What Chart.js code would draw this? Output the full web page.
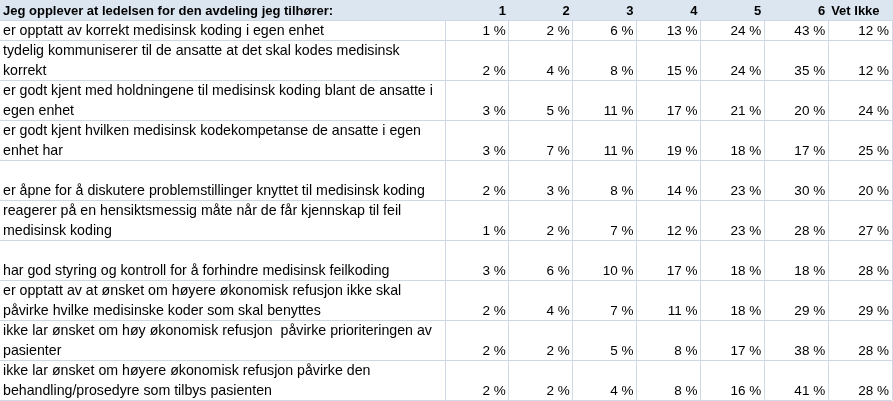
<!DOCTYPE html>
<html>
<head>
<meta charset="utf-8">
<script src="https://cdn.jsdelivr.net/npm/chart.js@4"></script>
<style>
  html, body { margin: 0; padding: 0; background: #fff; }
  #wrap { width: 893px; height: 401px; }
</style>
</head>
<body>
<div id="wrap"><canvas id="table"></canvas></div>
<script>
const title = 'Jeg opplever at ledelsen for den avdeling jeg tilhører:';
const columns = ['1', '2', '3', '4', '5', '6', 'Vet Ikke'];

// one entry per row, one string per line in the cell (empty line = text sits at the bottom)
const statements = [
  ['er opptatt av korrekt medisinsk koding i egen enhet'],
  ['tydelig kommuniserer til de ansatte at det skal kodes medisinsk', 'korrekt'],
  ['er godt kjent med holdningene til medisinsk koding blant de ansatte i', 'egen enhet'],
  ['er godt kjent hvilken medisinsk kodekompetanse de ansatte i egen', 'enhet har'],
  ['', 'er åpne for å diskutere problemstillinger knyttet til medisinsk koding'],
  ['reagerer på en hensiktsmessig måte når de får kjennskap til feil', 'medisinsk koding'],
  ['', 'har god styring og kontroll for å forhindre medisinsk feilkoding'],
  ['er opptatt av at ønsket om høyere økonomisk refusjon ikke skal', 'påvirke hvilke medisinske koder som skal benyttes'],
  ['ikke lar ønsket om høy økonomisk refusjon  påvirke prioriteringen av', 'pasienter'],
  ['ikke lar ønsket om høyere økonomisk refusjon påvirke den', 'behandling/prosedyre som tilbys pasienten']
];

// percent per answer column
const svar1 = [1, 2, 3, 3, 2, 1, 3, 2, 2, 2];
const svar2 = [2, 4, 5, 7, 3, 2, 6, 4, 2, 2];
const svar3 = [6, 8, 11, 11, 8, 7, 10, 7, 5, 4];
const svar4 = [13, 15, 17, 19, 14, 12, 17, 11, 8, 8];
const svar5 = [24, 24, 21, 18, 23, 23, 18, 18, 17, 16];
const svar6 = [43, 35, 20, 17, 30, 28, 18, 29, 38, 41];
const vetIkke = [12, 12, 24, 25, 20, 27, 28, 29, 28, 28];
const columnValues = [svar1, svar2, svar3, svar4, svar5, svar6, vetIkke];

const GRID = '#d0d7e5';
const HEADER_BG = '#dce6f1';
const TEXT = '#000000';
const FONT_FAMILY = '"Liberation Sans", Arial, sans-serif';
const HEAD_FONT = 'bold 13px ' + FONT_FAMILY;
const LABEL_FONT = '14.2px ' + FONT_FAMILY;
const VALUE_FONT = '13.5px ' + FONT_FAMILY;
const PAD = 3;

// row boundaries in "line" units
const rowStart = [];
let totalLines = 0;
statements.forEach(lines => { rowStart.push(totalLines); totalLines += lines.length; });
const boundaries = rowStart.concat([totalLines]);

const datasets = columns.map((col, c) => ({
  label: col,
  data: columnValues[c].map((v, r) => ({ x: col, y: rowStart[r] + statements[r].length - 0.5, v: v })),
  pointRadius: 0,
  pointHoverRadius: 0
}));

const isNumber = s => !isNaN(Number(s));

const tableText = {
  id: 'tableText',
  beforeDraw(chart) {
    const { ctx, chartArea, width } = chart;
    ctx.save();
    ctx.fillStyle = HEADER_BG;
    ctx.fillRect(0, 0, width, chartArea.top);
    ctx.restore();
  },
  afterDraw(chart) {
    const { ctx, chartArea } = chart;
    const x = chart.scales.x;
    const y = chart.scales.y;
    ctx.save();
    ctx.fillStyle = TEXT;
    ctx.textBaseline = 'middle';

    // header row
    const headY = chartArea.top / 2 + 1;
    ctx.font = HEAD_FONT;
    ctx.textAlign = 'left';
    ctx.fillText(title, PAD, headY);
    columns.forEach((col, c) => {
      if (isNumber(col)) {
        ctx.textAlign = 'right';
        ctx.fillText(col, x.getPixelForValue(c + 0.5) - PAD, headY);
      } else {
        ctx.textAlign = 'left';
        ctx.fillText(col, x.getPixelForValue(c - 0.5) + PAD, headY);
      }
    });

    // statement column
    ctx.font = LABEL_FONT;
    ctx.textAlign = 'left';
    statements.forEach((lines, r) => {
      lines.forEach((line, j) => {
        ctx.fillText(line, PAD, y.getPixelForValue(rowStart[r] + j + 0.5) + 1);
      });
    });

    // values
    ctx.font = VALUE_FONT;
    ctx.textAlign = 'right';
    chart.data.datasets.forEach((ds, c) => {
      const meta = chart.getDatasetMeta(c);
      const right = x.getPixelForValue(c + 0.5) - PAD;
      meta.data.forEach((pt, r) => {
        ctx.fillText(ds.data[r].v + ' %', right, pt.y + 1);
      });
    });
    ctx.restore();
  }
};

new Chart(document.getElementById('table'), {
  type: 'scatter',
  data: { labels: columns, datasets: datasets },
  options: {
    responsive: true,
    maintainAspectRatio: false,
    animation: false,
    events: [],
    layout: { padding: { top: 20, right: 1, bottom: 1, left: 0 } },
    plugins: { legend: { display: false }, tooltip: { enabled: false } },
    scales: {
      x: {
        type: 'category',
        labels: columns,
        position: 'top',
        offset: true,
        ticks: { display: false },
        grid: { offset: true, color: GRID, lineWidth: 1, drawTicks: false },
        border: { display: true, color: GRID }
      },
      y: {
        type: 'linear',
        reverse: true,
        min: 0,
        max: totalLines,
        afterBuildTicks: scale => { scale.ticks = boundaries.map(v => ({ value: v })); },
        ticks: { display: false },
        grid: { color: GRID, lineWidth: 1, drawTicks: true, tickLength: 445, tickColor: GRID },
        border: { display: true, color: GRID }
      }
    }
  },
  plugins: [tableText]
});
</script>
</body>
</html>
